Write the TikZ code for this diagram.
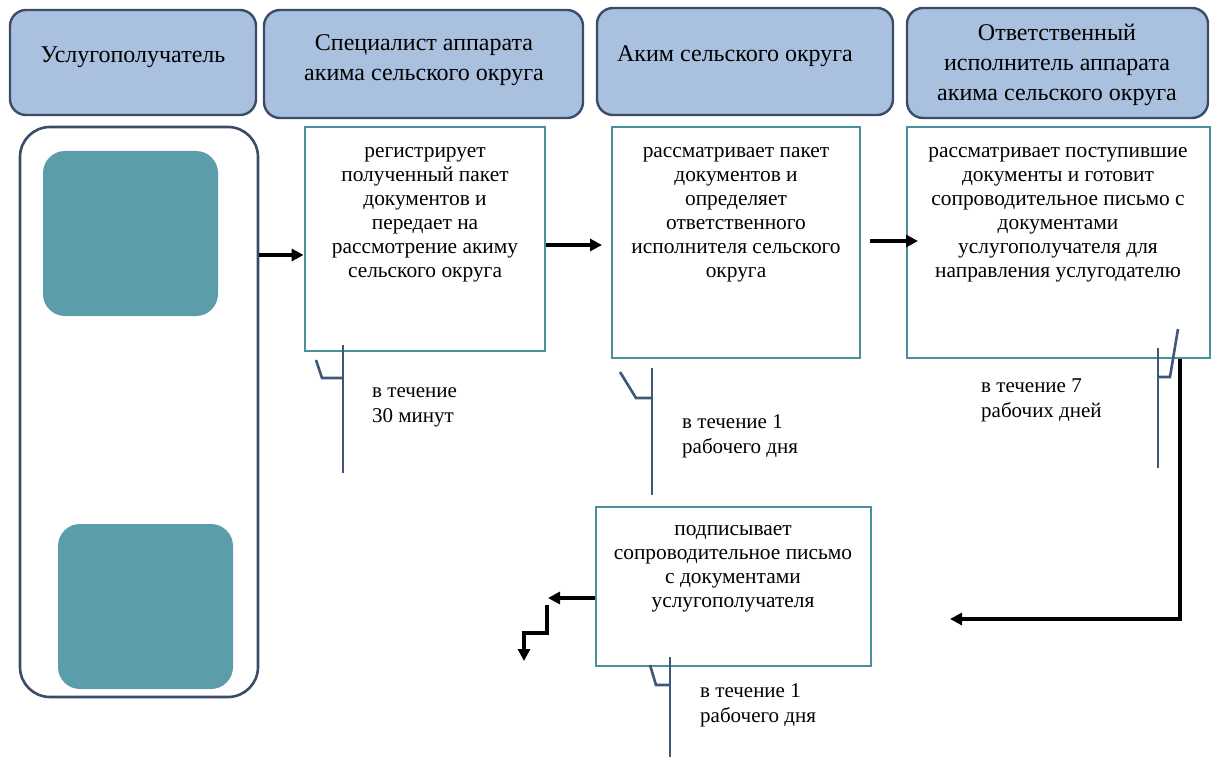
\documentclass[tikz,border=0pt]{standalone}
\usepackage{fontspec}
\setmainfont{Liberation Serif}
\usetikzlibrary{arrows.meta}
\definecolor{headfill}{HTML}{A9C0DE}
\definecolor{headline}{HTML}{3A4C68}
\definecolor{boxline}{HTML}{4A919E}
\definecolor{tealfill}{HTML}{5B9DAA}
\definecolor{brk}{HTML}{3E5779}
\tikzset{
  header/.style={draw=headline, line width=2.4pt, fill=headfill, rounded corners=16pt},
  headtext/.style={font=\fontsize{24}{30}\selectfont, align=center, inner sep=0pt},
  lane/.style={draw=headline, line width=2.6pt, rounded corners=30pt},
  tealbox/.style={fill=tealfill, rounded corners=22pt},
  stepbox/.style={draw=boxline, line width=2.8pt},
  body/.style={font=\fontsize{21.4}{24}\selectfont, align=center, inner sep=0pt, anchor=north},
  timing/.style={font=\fontsize{21}{25}\selectfont, align=left, inner sep=0pt, anchor=north west},
  tip/.style={-{Triangle[length=12pt,width=12pt]}},
  flow/.style={line width=3.6pt, tip},
  bracket/.style={draw=brk, line width=2.6pt},
}
\begin{document}
\begin{tikzpicture}[x=1pt,y=-1pt]
\useasboundingbox (0,0) rectangle (1213,757);

% column headers
\draw[header] (10,10) rectangle (256,115);
\node[headtext] (h1) at (133,57) {Услугополучатель};
\draw[header] (264,10) rectangle (583,118);
\node[headtext] (h2) at (424,60) {Специалист аппарата\\акима сельского округа};
\draw[header] (597,8) rectangle (893,115);
\node[headtext] (h3) at (735,56) {Аким сельского округа};
\draw[header] (907,8) rectangle (1208,118);
\node[headtext] (h4) at (1057,65) {Ответственный\\исполнитель аппарата\\акима сельского округа};

% applicant lane
\node[lane, minimum width=238pt, minimum height=570pt, inner sep=0pt] (L) at (139,412) {};
\node[tealbox, minimum width=175pt, minimum height=165pt] (t1) at (130.5,233.5) {};
\node[tealbox, minimum width=175pt, minimum height=165pt] (t2) at (145.5,606.5) {};

% process steps
\node[stepbox, minimum width=240pt, minimum height=224pt, inner sep=0pt] (A) at (425,239) {};
\node[body] (At) at (425,147) {регистрирует\\полученный пакет\\документов и\\передает на\\рассмотрение акиму\\сельского округа};

\node[stepbox, minimum width=248pt, minimum height=231pt, inner sep=0pt] (B) at (736,242.5) {};
\node[body] (Bt) at (736,147) {рассматривает пакет\\документов и\\определяет\\ответственного\\исполнителя сельского\\округа};

\node[stepbox, minimum width=303pt, minimum height=231pt, inner sep=0pt] (C) at (1058.5,242.5) {};
\node[body] (Ct) at (1058,147) {рассматривает поступившие\\документы и готовит\\сопроводительное письмо с\\документами\\услугополучателя для\\направления услугодателю};

\node[stepbox, minimum width=275pt, minimum height=159pt, inner sep=0pt] (D) at (733.5,586.5) {};
\node[body] (Dt) at (733,525) {подписывает\\сопроводительное письмо\\с документами\\услугополучателя};

% flow arrows
\coordinate (ab) at (602,245);
\coordinate (bc) at (918,241);
\draw[flow] (L.east |- 0,255) -- (A.west |- 0,255);
\draw[flow] (A.east |- 0,245) -- (ab);
\draw[flow] (870,241) -- (bc);
\coordinate (cturn) at (1180,619);
\coordinate (dend) at (950,619);
\draw[line width=3.6pt] (C.south -| 1180,0) -- (cturn);
\draw[flow] (1182,619) -- (dend);
\coordinate (dleft) at (548,598);
\draw[flow] (D.west |- 0,598) -- (dleft);
\coordinate (step1) at (547,605);
\coordinate (step2) at (524,661);
\draw[flow] (step1) -- (547,633) -- (524,633) -- (step2);

% timing brackets
\draw[bracket] (343,345) -- (343,473);
\draw[bracket] (316,360) -- (322,378) -- (343,378);
\node[timing] (Ta) at (372,387) {в течение\\30 минут};

\draw[bracket] (652,368) -- (652,495);
\draw[bracket] (620,372) -- (636,398) -- (652,398);
\node[timing] (Tb) at (682,414) {в течение 1\\рабочего дня};

\draw[bracket] (1158,348) -- (1158,468);
\draw[bracket] (1178,329) -- (1170,377) -- (1158,377);
\node[timing] (Tc) at (981,379) {в течение 7\\рабочих дней};

\draw[bracket] (670,657) -- (670,757);
\draw[bracket] (650,665) -- (656,685) -- (670,685);
\node[timing] (Td) at (700,683) {в течение 1\\рабочего дня};
\end{tikzpicture}
\end{document}
